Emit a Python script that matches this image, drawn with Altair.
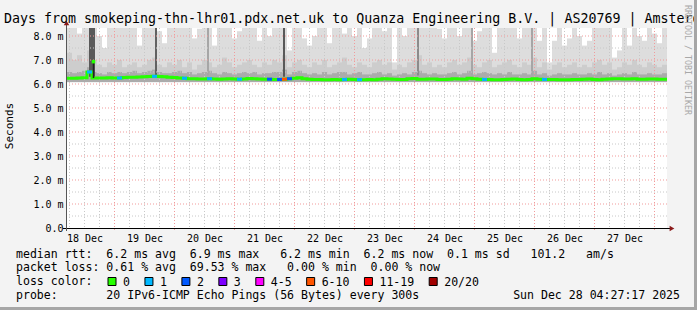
import altair as alt
import pandas as pd

# ---------------- data ----------------
title_text = "Days from smokeping-thn-lhr01.pdx.net.uk to Quanza Engineering B.V. | AS20769 | Amsterdam"
day_labels = ["18 Dec", "19 Dec", "20 Dec", "21 Dec", "22 Dec",
              "23 Dec", "24 Dec", "25 Dec", "26 Dec", "27 Dec"]
window_hours = 240          # 10 days, window starts 18 Dec 05:00
first_midnight = 19         # hours after window start
bucket_hours = 2

# top of the lightest smoke (max ping), ms; values above 8.33 run off the top
smoke_max = [
    9.0, 9.0, 8.1, 9.0, 9.0, 9.0, 8.0, 7.5, 9.0, 8.4, 9.0, 9.0, 8.6, 9.0, 7.6, 9.0, 9.0, 9.0, 8.2, 7.7,
    9.0, 8.8, 9.0, 9.0, 8.9, 7.9, 8.3, 9.0, 9.0, 7.6, 9.0, 9.0, 8.9, 7.9, 8.2, 9.0, 9.0, 8.5, 7.8, 9.0,
    8.0, 9.0, 9.0, 9.0, 7.4, 9.0, 9.0, 7.9, 7.6, 8.0, 9.0, 8.6, 7.7, 9.0, 9.0, 8.1, 9.0, 8.0, 9.0, 7.5,
    7.9, 9.0, 9.0, 8.2, 9.0, 6.9, 9.0, 8.0, 9.0, 9.0, 9.0, 8.6, 9.0, 9.0, 8.3, 7.9, 8.4, 9.0, 8.0, 9.0,
    9.0, 7.8, 8.2, 9.0, 9.0, 7.3, 9.0, 9.0, 8.6, 9.0, 7.9, 9.0, 9.0, 9.0, 7.8, 9.0, 6.9, 7.8, 9.0, 7.6,
    7.9, 9.0, 8.0, 7.6, 7.8, 9.0, 9.0, 8.5, 9.0, 7.1, 7.4, 9.0, 7.6, 9.0, 8.0, 7.8, 9.0, 8.1, 7.7, 8.8,
]
# top of the middle smoke band, ms
smoke_mid = [
    7.3, 7.0, 7.2, 6.9, 7.4, 7.0, 6.8, 6.7, 6.9, 6.8, 7.0, 6.7, 6.8, 6.9, 6.7, 6.8, 7.0, 7.1, 6.8, 6.7,
    6.9, 6.8, 7.0, 6.7, 6.9, 6.6, 6.8, 7.0, 6.9, 6.7, 6.8, 7.1, 6.9, 6.7, 6.8, 6.9, 7.0, 6.8, 6.7, 6.9,
    6.8, 7.0, 6.9, 7.2, 6.7, 6.9, 7.0, 6.8, 6.7, 6.9, 6.8, 7.0, 6.7, 6.8, 6.9, 7.1, 6.8, 6.7, 6.9, 6.8,
    6.7, 6.9, 7.0, 6.8, 6.9, 6.6, 6.8, 6.7, 6.9, 7.0, 7.2, 6.8, 6.9, 6.7, 6.8, 6.7, 6.9, 7.0, 6.8, 6.9,
    7.1, 6.8, 6.7, 6.9, 7.0, 6.7, 6.8, 6.9, 7.0, 6.8, 6.7, 6.9, 6.8, 7.1, 6.7, 6.9, 6.6, 6.8, 6.9, 6.7,
    6.8, 6.9, 6.7, 6.8, 6.7, 6.9, 7.0, 6.8, 6.9, 6.6, 6.7, 6.9, 6.8, 7.0, 6.8, 6.7, 6.9, 6.8, 6.7, 6.8,
]
# top of the dense inner smoke, ms
smoke_core = [
    6.50, 6.45, 6.50, 6.55, 6.70, 6.50, 6.45, 6.40, 6.50, 6.45, 6.50, 6.45, 6.50, 6.55, 6.45, 6.50, 6.55, 6.60, 6.50, 6.45,
    6.45, 6.50, 6.55, 6.45, 6.50, 6.40, 6.45, 6.50, 6.55, 6.45, 6.40, 6.50, 6.45, 6.40, 6.45, 6.50, 6.45, 6.50, 6.40, 6.45,
    6.45, 6.50, 6.50, 6.60, 6.40, 6.50, 6.55, 6.45, 6.40, 6.45, 6.40, 6.50, 6.40, 6.45, 6.50, 6.50, 6.40, 6.45, 6.50, 6.40,
    6.40, 6.45, 6.50, 6.40, 6.45, 6.35, 6.40, 6.45, 6.40, 6.50, 6.55, 6.45, 6.40, 6.45, 6.40, 6.40, 6.45, 6.50, 6.40, 6.45,
    6.55, 6.40, 6.45, 6.50, 6.45, 6.40, 6.45, 6.40, 6.50, 6.40, 6.40, 6.45, 6.40, 6.55, 6.40, 6.45, 6.35, 6.40, 6.45, 6.40,
    6.40, 6.45, 6.40, 6.40, 6.45, 6.40, 6.50, 6.40, 6.45, 6.35, 6.40, 6.45, 6.40, 6.50, 6.40, 6.40, 6.45, 6.40, 6.40, 6.45,
]
smoke_min = 6.08
# median rtt, ms
median_rtt = [
    6.24, 6.24, 6.25, 6.26, 6.50, 6.25, 6.25, 6.25, 6.26, 6.25, 6.25, 6.27, 6.28, 6.28, 6.29, 6.30, 6.31, 6.32, 6.31, 6.30,
    6.28, 6.27, 6.25, 6.24, 6.22, 6.22, 6.21, 6.21, 6.22, 6.21, 6.20, 6.21, 6.22, 6.21, 6.20, 6.21, 6.23, 6.22, 6.21, 6.20,
    6.20, 6.19, 6.19, 6.20, 6.22, 6.24, 6.26, 6.22, 6.20, 6.19, 6.19, 6.18, 6.18, 6.19, 6.18, 6.19, 6.20, 6.19, 6.18, 6.18,
    6.19, 6.18, 6.20, 6.22, 6.21, 6.20, 6.19, 6.19, 6.22, 6.23, 6.20, 6.20, 6.21, 6.21, 6.19, 6.19, 6.20, 6.22, 6.21, 6.20,
    6.24, 6.22, 6.20, 6.19, 6.19, 6.18, 6.18, 6.19, 6.20, 6.21, 6.19, 6.18, 6.19, 6.22, 6.20, 6.19, 6.19, 6.19, 6.18, 6.18,
    6.18, 6.19, 6.19, 6.20, 6.21, 6.19, 6.18, 6.20, 6.21, 6.22, 6.22, 6.21, 6.21, 6.22, 6.20, 6.20, 6.21, 6.21, 6.20, 6.20,
]
# brief median excursion (hours after window start, ms)
peak_hour = [10.6]
peak_rtt = [6.93]
peak_base = [6.25]

# lost pings out of 20, per bucket (0 where not listed)
loss_bucket = [4, 10, 17, 23, 28, 34, 40, 42, 43, 44, 55, 58, 83, 95]
loss_count = [1, 1, 1, 1, 1, 1, 2, 2, 7, 2, 1, 1, 1, 1]

# isolated dense smoke spikes: start / end (hours after window start), low / high (ms), density 0..1
spike_start = [8.8, 35.2, 56.0, 86.4, 140.0, 161.6, 185.6]
spike_end = [11.2, 36.0, 56.8, 87.2, 140.8, 162.4, 186.4]
spike_low = [6.30, 6.30, 6.35, 6.30, 6.35, 6.35, 6.35]
spike_high = [9.0, 9.0, 9.0, 9.0, 9.0, 9.0, 9.0]
spike_density = [0.75, 0.7, 0.3, 0.75, 0.45, 0.3, 0.3]

loss_labels = ["0", "1", "2", "3", "4-5", "6-10", "11-19", "20/20"]
loss_colors = ["#26ff00", "#00b8ff", "#0059ff", "#7e00ff", "#ff00ff", "#ff5500", "#ff0000", "#a10000"]

footer_lines = [
    "median rtt:  6.2 ms avg  6.9 ms max   6.2 ms min  6.2 ms now  0.1 ms sd   101.2   am/s",
    "packet loss: 0.61 % avg  69.53 % max   0.00 % min  0.00 % now",
    "loss color:",
    "probe:       20 IPv6-ICMP Echo Pings (56 Bytes) every 300s",
]
stamp_text = "Sun Dec 28 04:27:17 2025"
y_title = "Seconds"
credit = "RRDTOOL / TOBI OETIKER"

# ---------------- build tables ----------------
MONO = "DejaVu Sans Mono"
NB = "\u00a0"
n = len(median_rtt)
hours = [i * bucket_hours for i in range(n)]


def loss_cat(c):
    if c == 0:
        return "0"
    if c <= 3:
        return str(c)
    if c <= 5:
        return "4-5"
    if c <= 10:
        return "6-10"
    if c <= 19:
        return "11-19"
    return "20/20"


losses = [0] * n
for b, c in zip(loss_bucket, loss_count):
    losses[b] = c

smoke = pd.DataFrame({
    "t": hours,
    "t2": [h + bucket_hours for h in hours],
    "lo": [smoke_min] * n,
    "max": smoke_max,
    "mid": smoke_mid,
    "core": smoke_core,
    "med": median_rtt,
    "loss": [loss_cat(c) for c in losses],
})
line_df = pd.DataFrame({"t": hours + [window_hours], "med": median_rtt + [median_rtt[-1]]})
spikes = pd.DataFrame({"t": spike_start, "t2": spike_end, "lo": spike_low, "hi": spike_high,
                       "d": spike_density})
peaks = pd.DataFrame({"t": peak_hour, "v": peak_rtt, "b": peak_base})

xs = alt.Scale(domain=[0, window_hours], nice=False, zero=False)
ys = alt.Scale(domain=[0, 25 / 3], nice=False, zero=False)
noons = [first_midnight - 12 + 24 * k for k in range(len(day_labels))]
label_js = "[" + ",".join("'%s'" % d for d in day_labels) + "]"
x_axis = alt.Axis(values=noons, labelExpr=f"{label_js}[round((datum.value - {noons[0]}) / 24)]",
                  ticks=False, domain=False, grid=False, title=None, labelFont=MONO,
                  labelFontSize=10, labelColor="#000000", labelBaseline="alphabetic",
                  labelPadding=13, labelAngle=0)
y_axis = alt.Axis(values=list(range(9)),
                  labelExpr="datum.value == 0 ? '0.0\u00a0\u00a0' : format(datum.value, '.1f') + ' m'",
                  ticks=False, domain=False, grid=False, title=None, labelFont=MONO,
                  labelFontSize=10, labelColor="#000000", labelPadding=4)


def X(f):
    return alt.X(f, type="quantitative", scale=xs, axis=x_axis)


def Y(f):
    return alt.Y(f, type="quantitative", scale=ys, axis=y_axis)


base = alt.Chart(smoke)
layers = [
    base.mark_rect(color="#dddddd", clip=True).encode(x=X("t"), x2="t2", y=Y("lo"), y2="max"),
    base.mark_rect(color="#cdcdcd", clip=True).encode(x=X("t"), x2="t2", y=Y("lo"), y2="mid"),
    base.mark_rect(color="#ababab", clip=True).encode(x=X("t"), x2="t2", y=Y("lo"), y2="core"),
    alt.Chart(spikes).mark_rect(clip=True).encode(
        x=X("t"), x2="t2", y=Y("lo"), y2="hi",
        fill=alt.Fill("d:Q", scale=alt.Scale(domain=[0, 1], range=["#dddddd", "#333333"]), legend=None)),
]

# grid (drawn over the smoke, as rrdtool does)
grid_minor_y = pd.DataFrame({"v": [k + 0.5 for k in range(8)]})
grid_major_y = pd.DataFrame({"v": list(range(1, 9))})
grid_minor_x = pd.DataFrame({"v": [h for h in range(first_midnight % 6, window_hours, 6)]})
grid_major_x = pd.DataFrame({"v": [h for h in range(first_midnight, window_hours, 24)]})
minor_style = dict(color="#c8c8c8", strokeDash=[1, 2], strokeWidth=1)
major_style = dict(color="#f19b9b", strokeDash=[1, 2], strokeWidth=1)
layers += [
    alt.Chart(grid_minor_y).mark_rule(**minor_style).encode(y=Y("v")),
    alt.Chart(grid_minor_x).mark_rule(**minor_style).encode(x=X("v")),
    alt.Chart(grid_major_y).mark_rule(**major_style).encode(y=Y("v")),
    alt.Chart(grid_major_x).mark_rule(**major_style).encode(x=X("v"), y=alt.value(0), y2=alt.value(203)),
]

# median line coloured by loss
layers += [
    alt.Chart(line_df).mark_line(interpolate="step-after", color=loss_colors[0], strokeWidth=3).encode(x=X("t"), y=Y("med")),
    base.transform_filter("datum.loss != '0'").mark_rule(strokeWidth=3).encode(
        x=X("t"), x2="t2", y=Y("med"),
        color=alt.Color("loss:N", scale=alt.Scale(domain=loss_labels, range=loss_colors), legend=None)),
    alt.Chart(peaks).mark_rule(color="#222222", strokeWidth=1.5).encode(x=X("t"), y=Y("b"), y2="v"),
    alt.Chart(peaks).mark_square(color=loss_colors[0], size=12, opacity=1).encode(x=X("t"), y=Y("v")),
]

one = pd.DataFrame({"a": [0]})
# axes lines and arrows
layers += [
    alt.Chart(one).mark_rule(color="#000000", strokeWidth=1).encode(
        x=alt.value(-4), x2=alt.value(603), y=alt.value(200.5)),
    alt.Chart(one).mark_rule(color="#555555", strokeWidth=1).encode(
        x=alt.value(-0.5), y=alt.value(-3), y2=alt.value(203)),
    alt.Chart(one).mark_point(shape="triangle-up", filled=True, color="#8b1a1a", size=30, opacity=1).encode(
        x=alt.value(-0.5), y=alt.value(-5)),
    alt.Chart(one).mark_point(shape="triangle-right", filled=True, color="#8b1a1a", size=30, opacity=1).encode(
        x=alt.value(605), y=alt.value(200.5)),
]


def txt(s, x, y, size=11.55, align="left", angle=0, color="#000000", baseline="alphabetic"):
    kw = dict(font=MONO, fontSize=size, align=align, baseline=baseline, color=color)
    if angle:
        kw["angle"] = angle
    return alt.Chart(one).mark_text(**kw).encode(
        text=alt.value(s.replace(" ", NB)), x=alt.value(x), y=alt.value(y))


# texts
layers.append(txt(title_text, -63, -5, size=13.3))
for i, line in enumerate(footer_lines):
    layers.append(txt(line, -51, 229.5 + 13.8 * i))
layers.append(txt(stamp_text, 613, 271, align="right"))
layers.append(txt(y_title, -57, 98, size=11, angle=270, align="center", baseline="middle"))
layers.append(txt(credit, 619.5, 32, size=8.3, angle=90, align="center", baseline="middle", color="#a8a8a8"))

# loss colour legend
cw = 6.95
starts = []
pos = 41.0
for lab in loss_labels:
    starts.append(pos)
    pos += 30 + cw * len(lab)
legend_df = pd.DataFrame({"lab": loss_labels, "col": loss_colors, "bx": [s + 4 for s in starts],
                          "tx": [s + 15 for s in starts]})
layers += [
    alt.Chart(legend_df).mark_square(size=64, opacity=1, stroke="#000000", strokeWidth=1).encode(
        x=alt.X("bx:Q", scale=None, axis=None), y=alt.value(253.5),
        fill=alt.Fill("col:N", scale=None, legend=None)),
    alt.Chart(legend_df).mark_text(font=MONO, fontSize=11.55, align="left", baseline="alphabetic", color="#000000").encode(
        x=alt.X("tx:Q", scale=None, axis=None), y=alt.value(257.5), text="lab:N"),
]

# canvas frame
layers += [
    alt.Chart(one).mark_rule(color="#a6a6a6", strokeWidth=3).encode(x=alt.value(628.5), y=alt.value(-28), y2=alt.value(282)),
    alt.Chart(one).mark_rule(color="#a6a6a6", strokeWidth=3).encode(x=alt.value(-67), x2=alt.value(630), y=alt.value(280.5)),
]

chart = alt.layer(*layers).resolve_scale(color="independent", fill="independent").properties(
    width=600, height=200, autosize="none", background="#f3f3f3",
    padding={"left": 67, "top": 28, "right": 30, "bottom": 82},
).configure_view(fill="#ffffff", stroke=None)

chart.save("out.html", embed_options={"renderer": "svg", "actions": False})
